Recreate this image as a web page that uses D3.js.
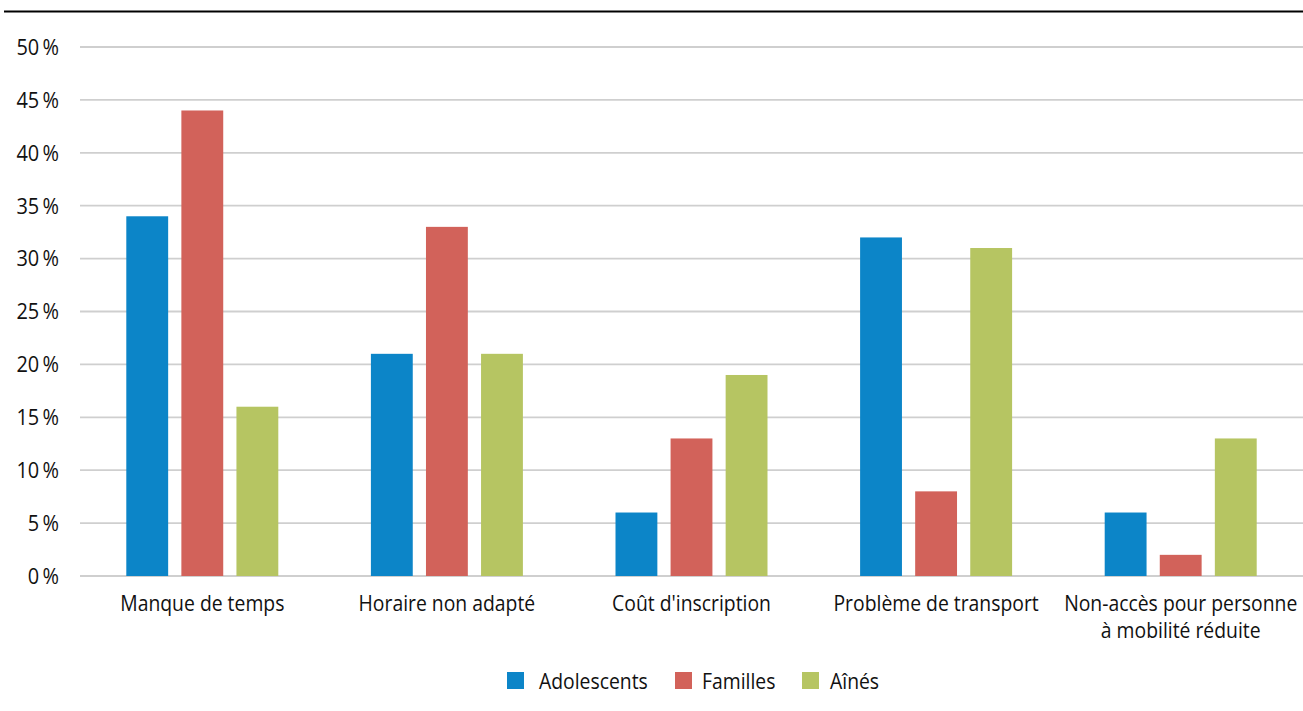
<!DOCTYPE html>
<html><head><meta charset="utf-8">
<script src="https://cdn.jsdelivr.net/npm/d3@7"></script>
<style>
body{margin:0;background:#fff;}
svg{display:block;font-family:"Open Sans",sans-serif;}
</style></head>
<body>
<svg id="c" width="1303" height="711"></svg>
<script>
const categories = [["Manque de temps"],["Horaire non adapté"],["Coût d'inscription"],["Problème de transport"],["Non-accès pour personne","à mobilité réduite"]];
const seriesNames = ["Adolescents","Familles","Aînés"];
const adolescents = [34,21,6,32,6];
const familles = [44,33,13,8,2];
const aines = [16,21,19,31,13];
const yTicks = [0,5,10,15,20,25,30,35,40,45,50];
const colors = ["#0c85c8","#d2625a","#b6c562"];

const svg = d3.select("#c");
const values = [adolescents, familles, aines];
const x = d3.scaleBand().domain(d3.range(categories.length)).range([80,1303]);
const x1 = d3.scaleBand().domain(d3.range(seriesNames.length)).range([0,152]).paddingInner(0.24);
const y = d3.scaleLinear().domain([0,50]).range([576,47]);
const txt = "#111";
const cond = 0.88;

// top rule
svg.append("line").attr("x1",4).attr("x2",1303).attr("y1",11.5).attr("y2",11.5).attr("stroke","#000").attr("stroke-width",2);

// grid
svg.append("g").selectAll("line").data(yTicks).join("line")
  .attr("x1",80).attr("x2",1303).attr("y1",d=>y(d)).attr("y2",d=>y(d))
  .attr("stroke","#cfcfcf").attr("stroke-width",1.8);

// y labels
const yAxis = d3.axisLeft(y).tickValues(yTicks).tickSize(0).tickFormat(d=>d+"\u2009%");
const ga = svg.append("g").attr("transform","translate(59,0)").call(yAxis);
ga.select(".domain").remove();
ga.selectAll("text").attr("font-size",21).attr("fill",txt).attr("x",0).attr("dy","0.35em")
  .attr("font-family","'Open Sans',sans-serif").attr("transform","scale(0.95,1)");

// bars
const groups = svg.append("g").selectAll("g").data(categories).join("g")
  .attr("transform",(d,i)=>`translate(${x(i)+x.bandwidth()/2-76},0)`);
groups.selectAll("rect").data((d,i)=>values.map((s,j)=>({j,v:s[i]}))).join("rect")
  .attr("x",d=>x1(d.j)).attr("width",x1.bandwidth())
  .attr("y",d=>y(d.v)).attr("height",d=>y(0)-y(d.v))
  .attr("fill",d=>colors[d.j]);

// x labels
const xl = svg.append("g").selectAll("text").data(categories).join("text")
  .attr("transform",(d,i)=>`translate(${x(i)+x.bandwidth()/2},611) scale(${cond},1)`)
  .attr("text-anchor","middle").attr("font-size",22).attr("fill",txt);
xl.selectAll("tspan").data(d=>d).join("tspan")
  .attr("x",0).attr("dy",(d,k)=>k===0?0:27).text(d=>d);

// legend
const legX = [507,675,802];
const legTextOff = [32,27,28];
const lg = svg.append("g").selectAll("g").data(seriesNames).join("g")
  .attr("transform",(d,i)=>`translate(${legX[i]},672)`);
lg.append("rect").attr("width",17).attr("height",17).attr("fill",(d,i)=>colors[i]);
lg.append("text").attr("transform",(d,i)=>`translate(${legTextOff[i]},16.5) scale(${cond},1)`)
  .attr("font-size",22).attr("fill",txt).text(d=>d);
</script>
</body></html>
